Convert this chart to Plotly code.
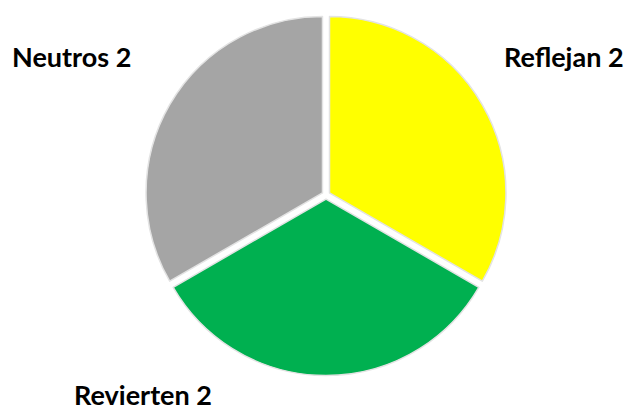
import plotly.graph_objects as go

labels = ["Reflejan", "Revierten", "Neutros"]
values = [2, 2, 2]
colors = ["#FFFF00", "#00B050", "#A5A5A5"]

W, H = 629, 410
cx, cy, R = 326, 195, 180.5

fig = go.Figure(go.Pie(
    labels=labels,
    values=values,
    sort=False,
    direction="clockwise",
    rotation=0,
    pull=[0.023] * len(values),
    marker=dict(colors=colors, line=dict(color="#e3e3e3", width=1.5)),
    textinfo="none",
    hoverinfo="label+value",
    showlegend=False,
    domain=dict(x=[(cx - R) / W, (cx + R) / W], y=[1 - (cy + R) / H, 1 - (cy - R) / H]),
))

label_pos = [(564, 56), (143, 394), (71, 56)]
for lab, val, (px, py) in zip(labels, values, label_pos):
    fig.add_annotation(
        x=px / W, y=1 - py / H, xref="paper", yref="paper",
        text=f"<b>{lab} {val}</b>", showarrow=False,
        xanchor="center", yanchor="middle",
        font=dict(family="Lato, 'Open Sans', sans-serif", size=27, color="#000000"),
    )

fig.update_layout(
    width=W, height=H,
    margin=dict(l=0, r=0, t=0, b=0),
    paper_bgcolor="white",
    plot_bgcolor="white",
)

fig.write_html("out.html", config={"displayModeBar": False})
with open("out.html", encoding="utf-8") as f:
    html = f.read()
html = html.replace("<body>", '<body style="margin:0;padding:0;overflow:hidden">', 1)
with open("out.html", "w", encoding="utf-8") as f:
    f.write(html)
